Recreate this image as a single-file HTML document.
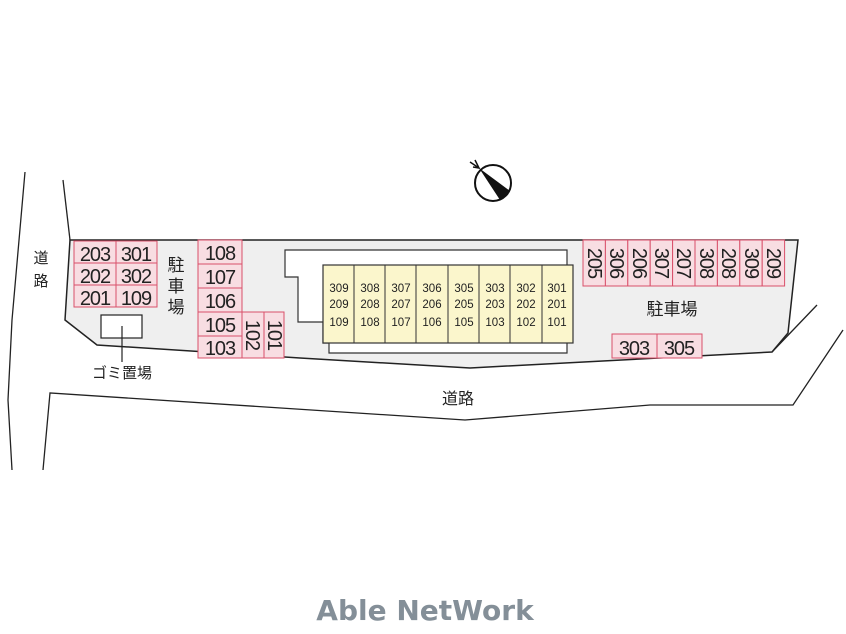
<!DOCTYPE html>
<html><head><meta charset="utf-8"><style>
html,body{margin:0;padding:0;background:#fff;}
svg{display:block;}
.t{font-family:"Liberation Sans","Noto Sans CJK JP",sans-serif;fill:#222;}
.p{letter-spacing:-1px;}
</style></head><body>
<svg width="846" height="634" viewBox="0 0 846 634" xmlns="http://www.w3.org/2000/svg">
<!-- roads -->
<path d="M25,172 L12,320 L8,400 L12,470" fill="none" stroke="#222" stroke-width="1.3"/>
<path d="M63,180 L70,240" fill="none" stroke="#222" stroke-width="1.3"/>
<path d="M43,470 L50,393 L465,420 L650,405 L793,405 L843,330" fill="none" stroke="#222" stroke-width="1.3"/>
<path d="M772,352 L817,305" fill="none" stroke="#222" stroke-width="1.3"/>
<!-- lot -->
<path d="M70,240 L798,240 L788,333 L772,352 L470,368 L300,358 L97,345 L65,320 Z" fill="#efefef" stroke="#222" stroke-width="1.5"/>
<!-- building outline -->
<path d="M285,250 L567,250 L567,353 L329,353 L329,343 L323,343 L323,322 L298,322 L298,277 L285,277 Z" fill="#fff" stroke="#333" stroke-width="1.2"/>
<rect x="323" y="265" width="250" height="78" fill="#fbf6cc" stroke="#333" stroke-width="1.2"/>
<g stroke="#333" stroke-width="1">
<line x1="354" y1="265" x2="354" y2="343"/><line x1="385" y1="265" x2="385" y2="343"/>
<line x1="416" y1="265" x2="416" y2="343"/><line x1="448" y1="265" x2="448" y2="343"/>
<line x1="479" y1="265" x2="479" y2="343"/><line x1="510" y1="265" x2="510" y2="343"/>
<line x1="542" y1="265" x2="542" y2="343"/>
</g>
<g class="t" font-size="11.5" text-anchor="middle">
<text x="339" y="292">309</text><text x="339" y="308">209</text><text x="339" y="326">109</text>
<text x="370" y="292">308</text><text x="370" y="308">208</text><text x="370" y="326">108</text>
<text x="401" y="292">307</text><text x="401" y="308">207</text><text x="401" y="326">107</text>
<text x="432" y="292">306</text><text x="432" y="308">206</text><text x="432" y="326">106</text>
<text x="464" y="292">305</text><text x="464" y="308">205</text><text x="464" y="326">105</text>
<text x="495" y="292">303</text><text x="495" y="308">203</text><text x="495" y="326">103</text>
<text x="526" y="292">302</text><text x="526" y="308">202</text><text x="526" y="326">102</text>
<text x="557" y="292">301</text><text x="557" y="308">201</text><text x="557" y="326">101</text>
</g>
<!-- pink parking left -->
<g fill="#f8dde2" stroke="#d9506a" stroke-width="1">
<rect x="74" y="241" width="42" height="22"/><rect x="116" y="241" width="41" height="22"/>
<rect x="74" y="263" width="42" height="22"/><rect x="116" y="263" width="41" height="22"/>
<rect x="74" y="285" width="42" height="22"/><rect x="116" y="285" width="41" height="22"/>
<rect x="198" y="240" width="44" height="24"/><rect x="198" y="264" width="44" height="24"/>
<rect x="198" y="288" width="44" height="24"/><rect x="198" y="312" width="44" height="24"/>
<rect x="198" y="336" width="44" height="22"/>
<rect x="242" y="312" width="22" height="46"/><rect x="264" y="312" width="20" height="46"/>
</g>
<g class="t p" font-size="20" text-anchor="middle">
<text x="95" y="261">203</text><text x="136" y="261">301</text>
<text x="95" y="283">202</text><text x="136" y="283">302</text>
<text x="95" y="305">201</text><text x="136" y="305">109</text>
<text x="220" y="260">108</text><text x="220" y="284">107</text>
<text x="220" y="308">106</text><text x="220" y="332">105</text>
<text x="220" y="355">103</text>
<text transform="translate(246,335) rotate(90)">102</text>
<text transform="translate(268,335) rotate(90)">101</text>
</g>
<!-- pink parking right -->
<g fill="#f8dde2" stroke="#d9506a" stroke-width="1">
<rect x="583" y="240" width="22.4" height="46"/><rect x="605.4" y="240" width="22.4" height="46"/>
<rect x="627.8" y="240" width="22.4" height="46"/><rect x="650.2" y="240" width="22.4" height="46"/>
<rect x="672.6" y="240" width="22.4" height="46"/><rect x="695" y="240" width="22.4" height="46"/>
<rect x="717.4" y="240" width="22.4" height="46"/><rect x="739.8" y="240" width="22.4" height="46"/>
<rect x="762.2" y="240" width="22.4" height="46"/>
<rect x="612" y="334" width="45" height="24"/><rect x="657" y="334" width="45" height="24"/>
</g>
<g class="t p" font-size="20" text-anchor="middle">
<text transform="translate(588,263) rotate(90)">205</text>
<text transform="translate(610,263) rotate(90)">306</text>
<text transform="translate(633,263) rotate(90)">206</text>
<text transform="translate(655,263) rotate(90)">307</text>
<text transform="translate(677,263) rotate(90)">207</text>
<text transform="translate(700,263) rotate(90)">308</text>
<text transform="translate(722,263) rotate(90)">208</text>
<text transform="translate(745,263) rotate(90)">309</text>
<text transform="translate(767,263) rotate(90)">209</text>
<text x="634" y="355">303</text><text x="679" y="355">305</text>
</g>
<!-- garbage -->
<rect x="101" y="315" width="41" height="23" fill="#fff" stroke="#222" stroke-width="1.2"/>
<line x1="122" y1="326" x2="122" y2="362" stroke="#222" stroke-width="1.2"/>
<g class="t" font-size="15">
<text x="122" y="378" text-anchor="middle">ゴミ置場</text>
<text x="41" y="263" text-anchor="middle">道</text><text x="41" y="286" text-anchor="middle">路</text>
<text x="176" y="271" text-anchor="middle" font-size="17">駐</text>
<text x="176" y="292" text-anchor="middle" font-size="17">車</text>
<text x="176" y="313" text-anchor="middle" font-size="17">場</text>
<text x="672" y="315" text-anchor="middle" font-size="17">駐車場</text>
<text x="458" y="404" text-anchor="middle" font-size="16">道路</text>
</g>
<!-- compass -->
<circle cx="493" cy="183" r="18" fill="#fff" stroke="#111" stroke-width="2"/>
<path d="M479,168 L510,191 L500,200 Z" fill="#111"/>
<path d="M479,168 L470,162 M473,167 L479,168 L475,160" fill="none" stroke="#111" stroke-width="1.5"/>
<text x="425" y="620" text-anchor="middle" font-family="'DejaVu Sans',sans-serif" font-weight="bold" font-size="28" fill="#848f98">Able NetWork</text>
</svg>
</body></html>
